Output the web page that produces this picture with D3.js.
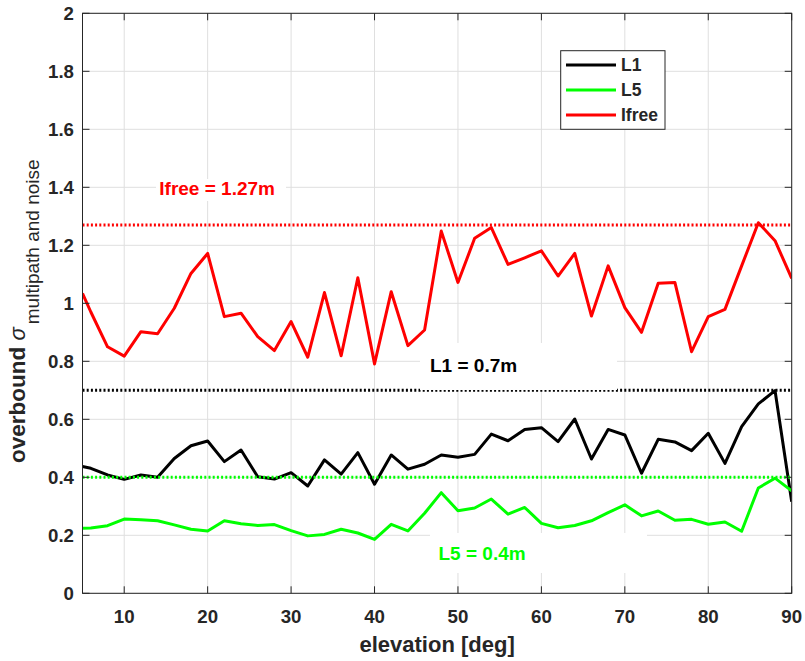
<!DOCTYPE html>
<html>
<head>
<meta charset="utf-8">
<script src="https://cdn.jsdelivr.net/npm/d3@7"></script>
<style>
  body { margin: 0; background: #fff; }
  svg { display: block; font-family: "Liberation Sans", Arial, sans-serif; }
</style>
</head>
<body>
<svg id="chart" width="805" height="661"></svg>
<script>
// elevation in degrees
var elevation = [5, 6, 8, 10, 12, 14, 16, 18, 20, 22, 24, 26, 28, 30, 32, 34, 36, 38, 40, 42, 44, 46, 48,
                 50, 52, 54, 56, 58, 60, 62, 64, 66, 68, 70, 72, 74, 76, 78, 80, 82, 84, 86, 88, 90];

var sigmaL1 = [0.437, 0.431, 0.408, 0.393, 0.408, 0.400, 0.465, 0.509, 0.525, 0.454, 0.494, 0.402, 0.394,
               0.416, 0.370, 0.460, 0.411, 0.485, 0.376, 0.477, 0.428, 0.445, 0.477,
               0.469, 0.479, 0.549, 0.526, 0.565, 0.571, 0.523, 0.601, 0.463, 0.565, 0.546, 0.414,
               0.531, 0.522, 0.492, 0.552, 0.448, 0.575, 0.653, 0.699, 0.316];

var sigmaL5 = [0.224, 0.225, 0.233, 0.256, 0.254, 0.250, 0.236, 0.221, 0.215, 0.250, 0.240, 0.234, 0.237,
               0.216, 0.198, 0.203, 0.221, 0.208, 0.186, 0.238, 0.215, 0.276, 0.347,
               0.285, 0.294, 0.325, 0.273, 0.296, 0.241, 0.226, 0.234, 0.250, 0.278, 0.305, 0.267,
               0.284, 0.252, 0.255, 0.238, 0.246, 0.214, 0.363, 0.397, 0.353];

var sigmaIfree = [1.034, 0.970, 0.850, 0.818, 0.902, 0.895, 0.983, 1.103, 1.172, 0.954, 0.966, 0.885, 0.837,
                  0.937, 0.814, 1.037, 0.819, 1.088, 0.791, 1.040, 0.854, 0.908, 1.249,
                  1.072, 1.224, 1.261, 1.134, 1.157, 1.181, 1.094, 1.172, 0.956, 1.129, 0.985, 0.900,
                  1.069, 1.072, 0.833, 0.954, 0.979, 1.129, 1.278, 1.216, 1.086];

var seriesNames = ["L1", "L5", "Ifree"];
var seriesColors = ["#000000", "#00ff00", "#ff0000"];
var overbounds = [0.7, 0.4, 1.27];
var overboundLabels = ["L1 = 0.7m", "L5 = 0.4m", "Ifree = 1.27m"];

var xTicks = [10, 20, 30, 40, 50, 60, 70, 80, 90];
var yTicks = [0, 0.2, 0.4, 0.6, 0.8, 1, 1.2, 1.4, 1.6, 1.8, 2];

var svg = d3.select("#chart");
var width = 805, height = 661;
var margin = { top: 13.3, right: 13.3, bottom: 67.7, left: 82.5 };
var axisColor = "#262626";

var x = d3.scaleLinear().domain([5, 90]).range([margin.left, width - margin.right]);
var y = d3.scaleLinear().domain([0, 2]).range([height - margin.bottom, margin.top]);

svg.append("rect").attr("width", width).attr("height", height).attr("fill", "#fff");

// grid
var grid = svg.append("g").attr("stroke", "#dfdfdf").attr("stroke-width", 1);
grid.selectAll(".gx").data(xTicks).enter().append("line")
    .attr("x1", d => x(d)).attr("x2", d => x(d))
    .attr("y1", y(0)).attr("y2", y(2));
grid.selectAll(".gy").data(yTicks).enter().append("line")
    .attr("x1", x(5)).attr("x2", x(90))
    .attr("y1", d => y(d)).attr("y2", d => y(d));

var clip = svg.append("clipPath").attr("id", "plotclip").append("rect")
    .attr("x", x(5)).attr("y", y(2))
    .attr("width", x(90) - x(5)).attr("height", y(0) - y(2));

var plot = svg.append("g").attr("clip-path", "url(#plotclip)");
var allSeries = [sigmaL1, sigmaL5, sigmaIfree];

var line = d3.line()
    .x((d, i) => x(elevation[i]))
    .y(d => y(d));

allSeries.forEach(function(s, k) {
  plot.append("path")
      .datum(s)
      .attr("fill", "none")
      .attr("stroke", seriesColors[k])
      .attr("stroke-width", 3)
      .attr("stroke-linejoin", "round")
      .attr("d", line);
});

// overbound levels (dotted)
overbounds.forEach(function(v, k) {
  plot.append("line")
      .attr("x1", x(5)).attr("x2", x(90))
      .attr("y1", y(v)).attr("y2", y(v))
      .attr("stroke", seriesColors[k])
      .attr("stroke-width", 3)
      .attr("stroke-dasharray", "2,2.2");
});

// text labels with white background
var labelPos = [
  { x: 430, y: 372, box: [420, 343, 197, 47] },
  { x: 438.5, y: 560, box: [430, 533, 217, 40] },
  { x: 159.3, y: 195, box: [156, 179, 130, 22] }
];
labelPos.forEach(function(p, k) {
  svg.append("rect")
      .attr("x", p.box[0]).attr("y", p.box[1])
      .attr("width", p.box[2]).attr("height", p.box[3])
      .attr("fill", "#fff");
  svg.append("text")
      .attr("x", p.x).attr("y", p.y)
      .attr("fill", seriesColors[k])
      .attr("font-size", "19px")
      .attr("font-weight", "bold")
      .text(overboundLabels[k]);
});

// axes box + ticks
var axes = svg.append("g").attr("stroke", axisColor).attr("stroke-width", 1).attr("fill", "none");
axes.append("rect")
    .attr("x", x(5)).attr("y", y(2))
    .attr("width", x(90) - x(5)).attr("height", y(0) - y(2));
var tickLen = 7;
xTicks.forEach(function(t) {
  axes.append("line").attr("x1", x(t)).attr("x2", x(t)).attr("y1", y(0)).attr("y2", y(0) - tickLen);
  axes.append("line").attr("x1", x(t)).attr("x2", x(t)).attr("y1", y(2)).attr("y2", y(2) + tickLen);
});
yTicks.forEach(function(t) {
  axes.append("line").attr("x1", x(5)).attr("x2", x(5) + tickLen).attr("y1", y(t)).attr("y2", y(t));
  axes.append("line").attr("x1", x(90)).attr("x2", x(90) - tickLen).attr("y1", y(t)).attr("y2", y(t));
});

// tick labels
svg.append("g").selectAll("text").data(xTicks).enter().append("text")
    .attr("x", d => x(d)).attr("y", 623)
    .attr("text-anchor", "middle")
    .attr("font-size", "18.67px").attr("font-weight", "bold").attr("fill", axisColor)
    .text(d => d);
svg.append("g").selectAll("text").data(yTicks).enter().append("text")
    .attr("x", 74).attr("y", d => y(d)).attr("dy", "0.36em")
    .attr("text-anchor", "end")
    .attr("font-size", "18.67px").attr("font-weight", "bold").attr("fill", axisColor)
    .text(d => d3.format("")(d));

// axis labels
svg.append("text")
    .attr("x", (x(5) + x(90)) / 2).attr("y", 652)
    .attr("text-anchor", "middle")
    .attr("font-size", "22px").attr("font-weight", "bold").attr("fill", axisColor)
    .text("elevation [deg]");

var ylab = svg.append("text")
    .attr("transform", "translate(25,463) rotate(-90)")
    .attr("fill", axisColor);
ylab.append("tspan").attr("font-size", "22.5px").attr("font-weight", "bold").text("overbound ");
ylab.append("tspan").attr("font-size", "22px").attr("font-style", "italic").text("σ");
ylab.append("tspan").attr("font-size", "19px").attr("dy", 14).attr("dx", 3).text("multipath and noise");

// legend
var leg = svg.append("g");
leg.append("rect")
    .attr("x", 560.7).attr("y", 50.7).attr("width", 104.3).attr("height", 78.6)
    .attr("fill", "#fff").attr("stroke", axisColor).attr("stroke-width", 1);
seriesNames.forEach(function(n, k) {
  var yy = 65 + k * 25;
  leg.append("line")
      .attr("x1", 566).attr("x2", 616).attr("y1", yy).attr("y2", yy)
      .attr("stroke", seriesColors[k]).attr("stroke-width", 3);
  leg.append("text")
      .attr("x", 621).attr("y", yy).attr("dy", "0.36em")
      .attr("font-size", "17.5px").attr("font-weight", "bold").attr("fill", axisColor)
      .text(n);
});
</script>
</body>
</html>
